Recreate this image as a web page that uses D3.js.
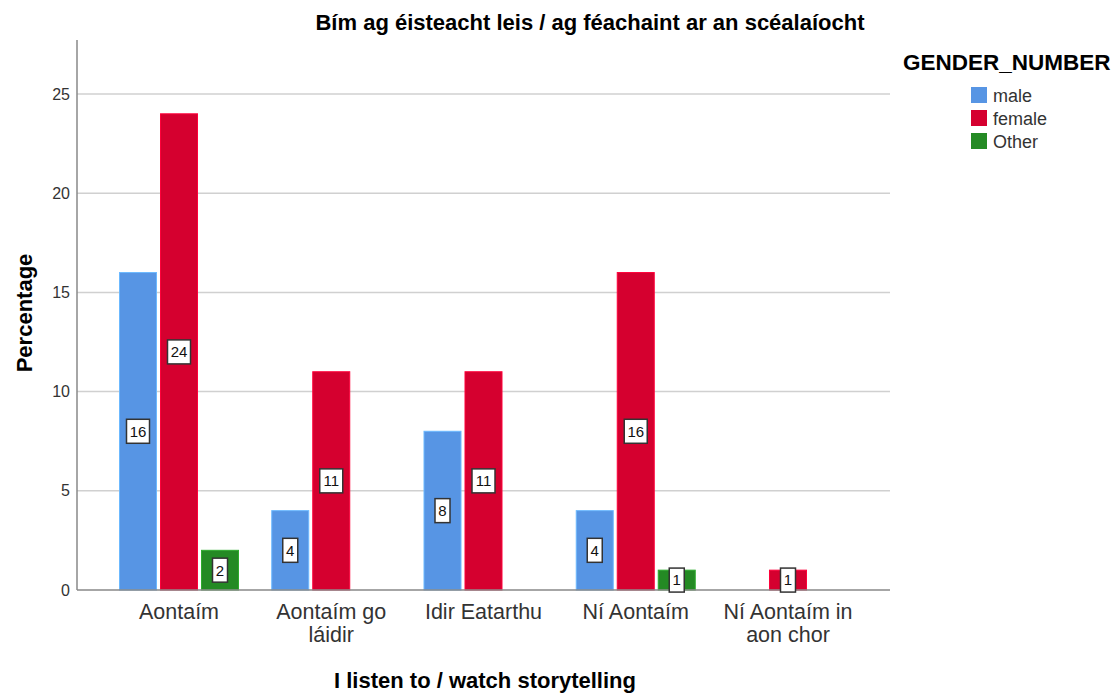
<!DOCTYPE html>
<html>
<head>
<meta charset="utf-8">
<script src="https://cdn.jsdelivr.net/npm/d3@7"></script>
<style>
  body { margin: 0; background: #fff; }
  text { font-family: Arial, "Liberation Sans", sans-serif; }
</style>
</head>
<body>
<svg id="chart" width="1120" height="693"></svg>
<script>
// data
const categories = [["Aontaím"], ["Aontaím go", "láidir"], ["Idir Eatarthu"], ["Ní Aontaím"], ["Ní Aontaím in", "aon chor"]];
const genders = ["male", "female", "Other"];
const maleValues = [16, 4, 8, 4, 0];
const femaleValues = [24, 11, 11, 16, 1];
const otherValues = [2, 0, 0, 1, 0];
const yTicks = [0, 5, 10, 15, 20, 25];
const colors = ["#5795e4", "#d5002f", "#248a24"];

const seriesValues = [maleValues, femaleValues, otherValues];

const svg = d3.select("#chart");
const plotLeft = 77, plotRight = 890, plotTop = 40, plotBottom = 590;

const x = d3.scalePoint()
    .domain(d3.range(categories.length))
    .range([plotLeft, plotRight])
    .padding(0.67);

const y = d3.scaleLinear()
    .domain([0, 27.72])
    .range([plotBottom, plotTop]);

const barW = 37, barStep = 41;

// gridlines
svg.append("g")
    .selectAll("line")
    .data(yTicks.filter(d => d > 0))
    .enter()
    .append("line")
    .attr("x1", plotLeft)
    .attr("x2", plotRight)
    .attr("y1", d => y(d))
    .attr("y2", d => y(d))
    .attr("stroke", "#d0d0d0")
    .attr("stroke-width", 1.5);

// y tick labels
svg.append("g")
    .selectAll("text")
    .data(yTicks)
    .enter()
    .append("text")
    .attr("x", plotLeft - 7)
    .attr("y", d => y(d))
    .attr("dy", "0.35em")
    .attr("text-anchor", "end")
    .style("font-size", "16px")
    .attr("fill", "#333")
    .text(d => d);

// bars
genders.forEach((g, gi) => {
    const offset = (gi - 1) * barStep;
    const rows = seriesValues[gi].map((v, i) => ({ i: i, v: v })).filter(d => d.v > 0);

    svg.append("g")
        .selectAll("rect")
        .data(rows)
        .enter()
        .append("rect")
        .attr("x", d => x(d.i) + offset - barW / 2)
        .attr("y", d => y(d.v))
        .attr("width", barW)
        .attr("height", d => y(0) - y(d.v))
        .attr("fill", colors[gi])
        .attr("stroke", d3.color(colors[gi]).brighter(0.6))
        .attr("stroke-width", 1);
});

// axis lines
svg.append("line")
    .attr("x1", plotLeft).attr("x2", plotLeft)
    .attr("y1", plotTop).attr("y2", plotBottom)
    .attr("stroke", "#888").attr("stroke-width", 1.5);
svg.append("line")
    .attr("x1", plotLeft).attr("x2", plotRight)
    .attr("y1", plotBottom).attr("y2", plotBottom)
    .attr("stroke", "#888").attr("stroke-width", 1.5);

// value label boxes
genders.forEach((g, gi) => {
    const offset = (gi - 1) * barStep;
    const rows = seriesValues[gi].map((v, i) => ({ i: i, v: v })).filter(d => d.v > 0);
    const lab = svg.append("g")
        .selectAll("g")
        .data(rows)
        .enter()
        .append("g")
        .attr("transform", d => "translate(" + (x(d.i) + offset) + "," + y(d.v / 2) + ")");
    lab.append("rect")
        .attr("x", d => String(d.v).length > 1 ? -11.5 : -7.5)
        .attr("y", -12)
        .attr("width", d => String(d.v).length > 1 ? 23 : 15)
        .attr("height", 24)
        .attr("fill", "#fff")
        .attr("stroke", "#333")
        .attr("stroke-width", 1.5);
    lab.append("text")
        .attr("text-anchor", "middle")
        .attr("dy", "0.36em")
        .style("font-size", "15px")
        .attr("fill", "#111")
        .text(d => d.v);
});

// category labels
const cat = svg.append("g")
    .selectAll("text")
    .data(categories)
    .enter()
    .append("text")
    .attr("x", (d, i) => x(i))
    .attr("y", 619)
    .attr("text-anchor", "middle")
    .style("font-size", "21.5px")
    .attr("fill", "#333");
cat.selectAll("tspan")
    .data(d => d)
    .enter()
    .append("tspan")
    .attr("x", function () { return d3.select(this.parentNode).attr("x"); })
    .attr("dy", (d, i) => i === 0 ? 0 : 23)
    .text(d => d);

// titles
svg.append("text")
    .attr("x", 590)
    .attr("y", 30)
    .attr("text-anchor", "middle")
    .style("font-size", "22px")
    .style("font-weight", "bold")
    .text("Bím ag éisteacht leis / ag féachaint ar an scéalaíocht");

svg.append("text")
    .attr("x", 485)
    .attr("y", 688)
    .attr("text-anchor", "middle")
    .style("font-size", "22px")
    .style("font-weight", "bold")
    .text("I listen to / watch storytelling");

svg.append("text")
    .attr("transform", "translate(32," + 313 + ") rotate(-90)")
    .attr("text-anchor", "middle")
    .style("font-size", "22px")
    .style("font-weight", "bold")
    .text("Percentage");

// legend
svg.append("text")
    .attr("x", 903)
    .attr("y", 70)
    .style("font-size", "22.5px")
    .style("font-weight", "bold")
    .text("GENDER_NUMBER");

const leg = svg.append("g")
    .selectAll("g")
    .data(genders)
    .enter()
    .append("g")
    .attr("transform", (d, i) => "translate(971," + (87 + i * 23) + ")");
leg.append("rect")
    .attr("width", 16)
    .attr("height", 16)
    .attr("fill", (d, i) => colors[i]);
leg.append("text")
    .attr("x", 22)
    .attr("y", 9)
    .attr("dy", "0.35em")
    .style("font-size", "18px")
    .attr("fill", "#333")
    .text(d => d);
</script>
</body>
</html>
